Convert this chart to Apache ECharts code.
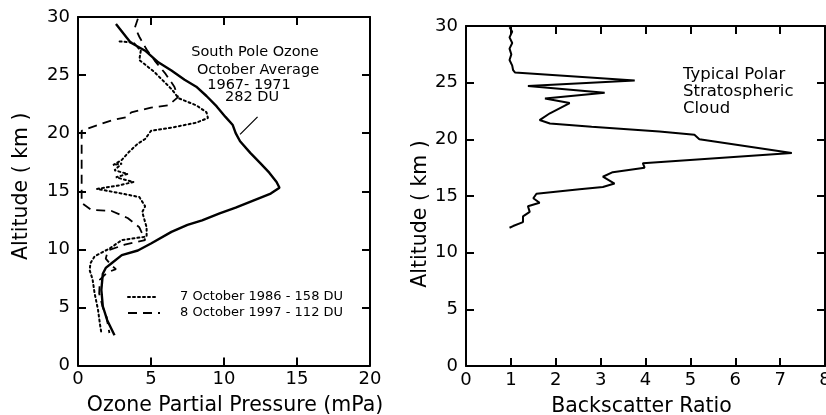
<!DOCTYPE html>
<html>
<head>
<meta charset="utf-8">
<script src="https://cdn.jsdelivr.net/npm/echarts@6/dist/echarts.min.js"></script>
<style>
  html, body { margin: 0; padding: 0; background: #fff; }
  #chart { width: 826px; height: 415px; }
</style>
</head>
<body>
<div id="chart"></div>
<script>
// ozone partial pressure (mPa), altitude (km)
const avg1967 = [
  [2.6, 29.4], [3.6, 27.8], [4.6, 27.1], [5.5, 26.1], [6.4, 25.4], [7.3, 24.6],
  [8.1, 24.0], [8.8, 23.2], [9.5, 22.3], [10.1, 21.4], [10.6, 20.7], [10.8, 20.0],
  [11.1, 19.3], [11.8, 18.3], [12.5, 17.4], [13.1, 16.6], [13.6, 15.8], [13.8, 15.3],
  [13.2, 14.8], [12.0, 14.2], [10.8, 13.6], [9.7, 13.1], [8.5, 12.5], [7.5, 12.1],
  [6.4, 11.5], [5.0, 10.5], [4.1, 9.9], [3.0, 9.5], [2.3, 8.8], [1.9, 8.4],
  [1.7, 7.9], [1.6, 6.5], [1.7, 5.1], [2.0, 3.9], [2.5, 2.6]
];
const oct1986 = [
  [2.85, 27.9], [3.8, 27.8], [4.3, 27.1], [4.2, 26.3], [5.2, 25.3], [6.4, 23.8],
  [6.9, 23.0], [8.1, 22.4], [8.8, 21.8], [8.9, 21.3], [8.1, 20.9], [6.5, 20.5],
  [5.0, 20.2], [4.6, 19.5], [4.1, 19.1], [3.5, 18.4], [3.0, 17.7], [2.4, 17.25],
  [3.0, 17.4], [2.5, 16.8], [3.4, 16.5], [2.6, 16.2], [3.8, 15.8], [2.8, 15.5],
  [1.3, 15.2], [2.6, 14.9], [4.2, 14.5], [4.6, 13.7], [4.4, 13.2], [4.7, 11.9],
  [4.7, 11.1], [3.0, 10.8], [2.2, 10.1], [1.14, 9.4], [0.85, 8.8], [0.8, 8.2],
  [1.0, 7.4], [1.14, 6.2], [1.37, 4.8], [1.5, 3.6], [1.6, 2.8]
];
const oct1997 = [
  [4.1, 29.85], [3.9, 29.1], [4.2, 28.3], [4.7, 27.2], [5.25, 26.25], [6.0, 25.1],
  [6.6, 24.0], [6.85, 23.1], [6.2, 22.4], [5.0, 22.2], [3.65, 21.8], [3.4, 21.4],
  [2.3, 21.1], [0.9, 20.5], [0.25, 20.2], [0.25, 18.0], [0.25, 16.0], [0.25, 14.0],
  [0.9, 13.4], [2.3, 13.3], [3.4, 12.7], [4.2, 11.9], [4.6, 10.8], [3.2, 10.4],
  [2.05, 9.9], [1.9, 9.2], [2.3, 8.6], [2.6, 8.3], [2.0, 8.0], [1.5, 7.4],
  [1.45, 6.2], [1.7, 5.0], [1.95, 4.2], [2.15, 2.8]
];
const leader282 = [[12.3, 21.4], [11.1, 19.9]];

// backscatter ratio, altitude (km)
const backscatter = [
  [0.97, 29.9], [1.03, 29.5], [0.97, 29.0], [1.03, 28.5], [0.97, 28.0], [1.01, 27.5],
  [0.97, 27.0], [1.03, 26.5], [1.05, 26.1], [1.09, 25.9], [3.76, 25.2], [1.38, 24.7],
  [3.09, 24.1], [1.76, 23.6], [2.31, 23.2], [1.87, 22.3], [1.64, 21.7], [1.87, 21.4],
  [2.8, 21.1], [4.31, 20.7], [5.09, 20.4], [5.2, 20.0], [7.26, 18.8], [3.94, 17.9],
  [3.98, 17.5], [3.27, 17.1], [3.05, 16.7], [3.31, 16.1], [3.05, 15.8], [2.53, 15.6],
  [1.57, 15.2], [1.5, 14.8], [1.64, 14.4], [1.38, 14.1], [1.42, 13.6], [1.27, 13.2],
  [1.27, 12.7], [1.05, 12.35], [0.97, 12.2]
];

const ozoneTicks = { min: 0, max: 20, interval: 5 };
const ratioTicks = { min: 0, max: 8, interval: 1 };
const altTicks = { min: 0, max: 30, interval: 5 };

const font = 'DejaVu Sans';
const axisLine = { show: true, onZero: false, lineStyle: { color: '#000', width: 2 } };
const tick = { show: true, inside: true, length: 8, lineStyle: { color: '#000', width: 2 } };
const tickLabel = { color: '#000', fontFamily: font, fontSize: 18 };

function xAx(gridIndex, range, name, gap, top, pad) {
  return {
    type: 'value', gridIndex, position: top ? 'top' : 'bottom',
    min: range.min, max: range.max, interval: range.interval,
    name: top ? '' : name, nameLocation: 'middle', nameGap: gap,
    nameTextStyle: { color: '#000', fontFamily: font, fontSize: 20.5, padding: pad || 0 },
    axisLine, axisTick: tick, splitLine: { show: false },
    axisLabel: top ? { show: false } : Object.assign({ margin: 5 }, tickLabel)
  };
}
function yAx(gridIndex, name, gap, right, pad) {
  return {
    type: 'value', gridIndex, position: right ? 'right' : 'left',
    min: altTicks.min, max: altTicks.max, interval: altTicks.interval,
    name: right ? '' : name, nameLocation: 'middle', nameGap: gap, nameRotate: 90,
    nameTextStyle: { color: '#000', fontFamily: font, fontSize: 20.5, padding: pad || 0 },
    axisLine, axisTick: tick, splitLine: { show: false },
    axisLabel: right ? { show: false } : Object.assign({ margin: 8 }, tickLabel)
  };
}
function line(data, xi, yi, style) {
  return {
    type: 'line', data, xAxisIndex: xi, yAxisIndex: yi, showSymbol: false, symbol: 'none',
    silent: true, animation: false, lineStyle: Object.assign({ color: '#000' }, style)
  };
}
function note(x, y, s, size, align) {
  return {
    type: 'text', x, y,
    style: { text: s, fill: '#000', font: size + 'px "' + font + '"', textAlign: align || 'left', textVerticalAlign: 'middle' }
  };
}

const chart = echarts.init(document.getElementById('chart'));
chart.setOption({
  backgroundColor: '#fff',
  animation: false,
  grid: [
    { left: 78, top: 17, width: 292, height: 348.5, containLabel: false, outerBoundsMode: 'none' },
    { left: 466, top: 26, width: 359, height: 340, containLabel: false, outerBoundsMode: 'none' }
  ],
  xAxis: [
    xAx(0, ozoneTicks, 'Ozone Partial Pressure (mPa)', 30, false, [0, 0, 0, 22]),
    xAx(0, ozoneTicks, '', 0, true),
    xAx(1, ratioTicks, 'Backscatter Ratio', 30, false, [0, 8, 0, 0]),
    xAx(1, ratioTicks, '', 0, true)
  ],
  yAxis: [
    yAx(0, 'Altitude ( km )', 46, false, [0, 0, 0, 10]),
    yAx(0, '', 0, true),
    yAx(1, 'Altitude ( km )', 29, false, [0, 36, 0, 0]),
    yAx(1, '', 0, true)
  ],
  series: [
    line(avg1967, 0, 0, { width: 2.4 }),
    line(oct1986, 0, 0, { width: 2, type: [2, 3], cap: 'round' }),
    line(oct1997, 0, 0, { width: 1.8, type: [9, 6] }),
    line(leader282, 0, 0, { width: 1.2 }),
    line(backscatter, 2, 2, { width: 2 })
  ],
  graphic: [
    note(255, 52, 'South Pole Ozone', 14.5, 'center'),
    note(258, 70, 'October Average', 14.5, 'center'),
    note(249, 85, '1967- 1971', 14.5, 'center'),
    note(252, 97, '282 DU', 14.5, 'center'),
    { type: 'line', shape: { x1: 128, y1: 297, x2: 155, y2: 297 }, style: { stroke: '#000', lineWidth: 2, lineDash: [2, 3], lineCap: 'round' } },
    { type: 'line', shape: { x1: 128, y1: 313, x2: 160, y2: 313 }, style: { stroke: '#000', lineWidth: 1.8, lineDash: [9, 6] } },
    note(180, 297, '7 October 1986 - 158 DU', 13),
    note(180, 313, '8 October 1997 - 112 DU', 13),
    note(683, 75, 'Typical Polar', 16.5),
    note(683, 92, 'Stratospheric', 16.5),
    note(683, 109, 'Cloud', 16.5)
  ]
});
</script>
</body>
</html>
